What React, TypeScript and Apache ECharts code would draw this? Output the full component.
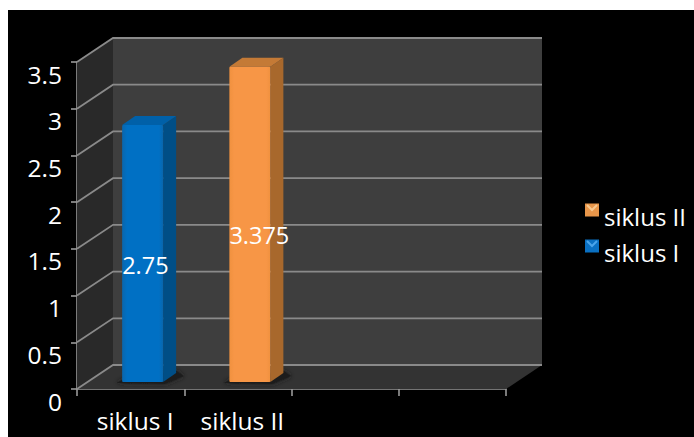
import React, { useEffect, useRef } from "react";
import * as echarts from "echarts";

const categories = ["siklus I", "siklus II", "", ""];
const tickValues = [0, 0.5, 1, 1.5, 2, 2.5, 3, 3.5];
const siklusOne = [[0, 2.75]];
const siklusTwo = [[1, 3.375]];
const FONT = "Open Sans";
const DX = 36;
const DY = -24;

function wallItem(params: any, api: any) {
  const cs = params.coordSys;
  const tick = api.value(1);
  const y = api.coord([0, tick])[1];
  const x0 = cs.x;
  const x1 = cs.x + cs.width;
  const yTop = cs.y;
  const yBot = cs.y + cs.height;
  const children: any[] = [];
  if (params.dataIndex === 0) {
    children.push(
      { type: "polygon", shape: { points: [[x0 + DX, yTop + DY], [x1 + DX, yTop + DY], [x1 + DX, yBot + DY], [x0 + DX, yBot + DY]] }, style: { fill: "#3e3e3e" } },
      { type: "polygon", shape: { points: [[x0, yTop], [x0 + DX, yTop + DY], [x0 + DX, yBot + DY], [x0, yBot]] }, style: { fill: "#292929" } },
      { type: "polygon", shape: { points: [[x0, yBot], [x1, yBot], [x1 + DX, yBot + DY], [x0 + DX, yBot + DY]] }, style: { fill: "#333333" } }
    );
  }
  children.push({
    type: "polyline",
    shape: { points: [[x0, y], [x0 + DX, y + DY], [x1 + DX, y + DY]] },
    style: { stroke: "#8a8a8a", lineWidth: 1.8, fill: "none" },
    z2: 2,
  });
  return { type: "group", children };
}

function barItem(front: string, frontEdge: string, side: string, top: string) {
  return (params: any, api: any) => {
    const cat = api.value(0);
    const val = api.value(1);
    const base = api.coord([cat, 0]);
    const head = api.coord([cat, val]);
    const mid = api.coord([cat, val / 2]);
    const xL = base[0] - 8.5;
    const xR = xL + 41;
    const yB = base[1] - 7;
    const yT = head[1] - 7;
    const sx = 13;
    const sy = -9;
    return {
      type: "group",
      children: [
        {
          type: "polygon",
          shape: { points: [[xL - 6, yB + 1], [xR + 2, yB + 2], [xR + sx + 8, yB + sy + 3], [xR + sx, yB + sy - 2], [xL, yB - 2]] },
          style: { fill: "#1c1c1c", shadowBlur: 5, shadowColor: "#1c1c1c" },
        },
        { type: "polygon", shape: { points: [[xR, yT], [xR + sx, yT + sy], [xR + sx, yB + sy], [xR, yB]] }, style: { fill: side } },
        { type: "polygon", shape: { points: [[xL, yT], [xL + sx, yT + sy], [xR + sx, yT + sy], [xR, yT]] }, style: { fill: top } },
        {
          type: "rect",
          shape: { x: xL, y: yT, width: 41, height: yB - yT, r: 1 },
          style: {
            fill: new echarts.graphic.LinearGradient(0, 0, 1, 0, [
              { offset: 0, color: frontEdge },
              { offset: 0.12, color: front },
              { offset: 0.9, color: front },
              { offset: 1, color: frontEdge },
            ]),
          },
        },
        {
          type: "text",
          x: xL + 0,
          y: mid[1] + 4,
          style: { text: String(val), fill: "#ffffff", font: `23.5px "${FONT}"`, align: "left", verticalAlign: "middle" },
        },
      ],
    };
  };
}

export default function App() {
  const ref = useRef<HTMLDivElement>(null);
  useEffect(() => {
    const chart = echarts.init(ref.current!, undefined, { renderer: "svg" });
    chart.setOption({
      animation: false,
      backgroundColor: "transparent",
      grid: { left: 77, right: 188, top: 62, bottom: 48, containLabel: false },
      legend: {
        data: ["siklus II", "siklus I"],
        orient: "vertical",
        left: 585,
        top: 192,
        padding: 0,
        itemWidth: 14,
        itemHeight: 13,
        itemGap: 0,
        icon: "rect",
        formatter: "{a|{name}}",
        textStyle: {
          color: "#ffffff",
          rich: { a: { color: "#ffffff", fontFamily: FONT, fontSize: 24, lineHeight: 20, padding: [12, 0, 0, 0] } },
        },
      },
      graphic: [
        { type: "polyline", shape: { points: [[587, 205], [592, 210], [597, 205]] }, style: { stroke: "#f8c98f", lineWidth: 2, fill: "none" }, z: 10 },
        { type: "polyline", shape: { points: [[587, 241], [592, 246], [597, 241]] }, style: { stroke: "#4aa4ea", lineWidth: 2, fill: "none" }, z: 10 },
      ],
      xAxis: {
        type: "category",
        data: categories,
        boundaryGap: true,
        axisLine: { show: true, lineStyle: { color: "#9a9a9a", width: 1.6 } },
        axisTick: { show: true, alignWithLabel: false, length: 7, lineStyle: { color: "#9a9a9a", width: 1.6 } },
        axisLabel: { color: "#ffffff", fontFamily: FONT, fontSize: 24.5, lineHeight: 18, margin: 22, padding: [0, 0, 0, 9], interval: 0 },
        splitLine: { show: false },
      },
      yAxis: {
        type: "value",
        min: 0,
        max: 3.5,
        interval: 0.5,
        axisLine: { show: true, lineStyle: { color: "#9a9a9a", width: 1.6 } },
        axisTick: { show: true, length: 6, lineStyle: { color: "#9a9a9a", width: 1.6 } },
        axisLabel: {
          color: "#ffffff",
          fontFamily: FONT,
          fontSize: 24.5,
          margin: 15,
          verticalAlign: "top",
          lineHeight: 24,
          formatter: (v: number) => String(v),
        },
        splitLine: { show: false },
      },
      series: [
        {
          name: "walls",
          type: "custom",
          z: 1,
          clip: false,
          silent: true,
          renderItem: wallItem,
          data: tickValues.map((t) => [0, t]),
          encode: { x: 0, y: 1 },
        },
        {
          name: "siklus I",
          type: "custom",
          z: 3,
          clip: false,
          itemStyle: { color: "#0a70c2" },
          renderItem: barItem("#0070c4", "#0a66ac", "#004e86", "#0060a8"),
          data: siklusOne,
          encode: { x: 0, y: 1 },
        },
        {
          name: "siklus II",
          type: "custom",
          z: 3,
          clip: false,
          itemStyle: { color: "#e8964a" },
          renderItem: barItem("#f79646", "#f0913f", "#a8682c", "#c47a36"),
          data: siklusTwo,
          encode: { x: 0, y: 1 },
        },
      ],
    });
    return () => chart.dispose();
  }, []);
  return (
    <div style={{ position: "fixed", left: 0, top: 0, width: 694, height: 437, background: "#ffffff", overflow: "hidden" }}>
      <div style={{ position: "absolute", left: 8, top: 10, width: 686, height: 427, background: "#000000" }} />
      <div ref={ref} style={{ position: "absolute", left: 0, top: 0, width: 694, height: 437 }} />
    </div>
  );
}
